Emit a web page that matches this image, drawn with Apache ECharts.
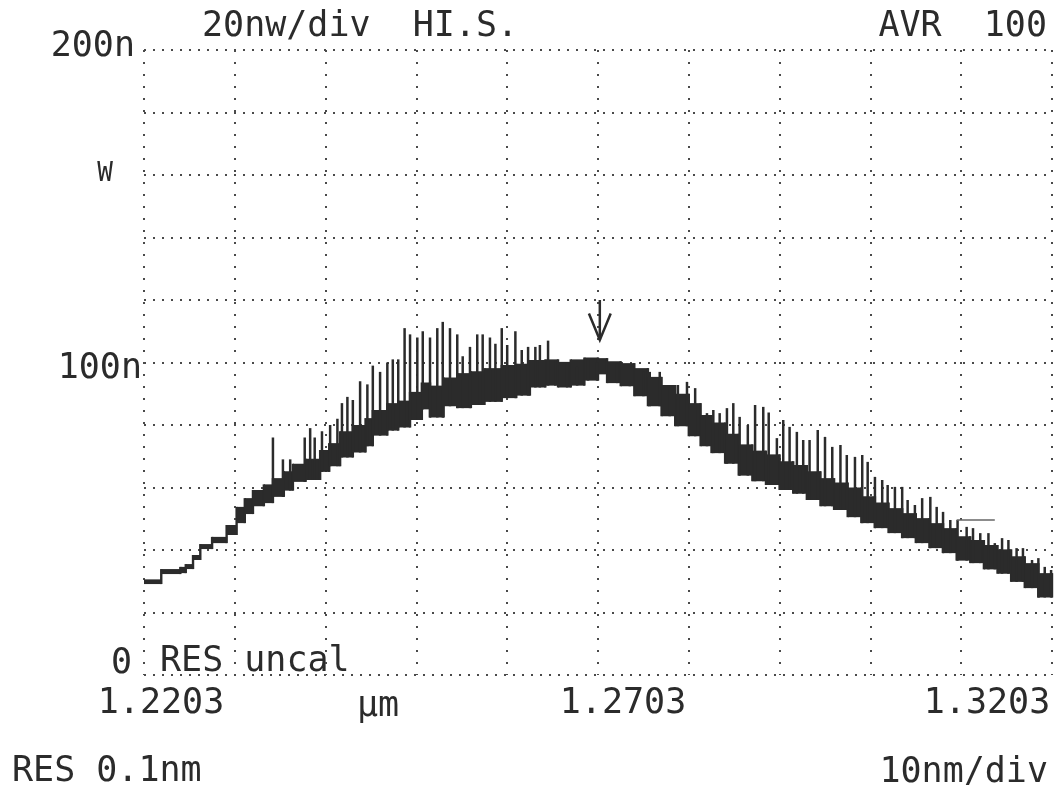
<!DOCTYPE html>
<html>
<head>
<meta charset="utf-8">
<script src="https://cdn.jsdelivr.net/npm/echarts@6/dist/echarts.min.js"></script>
<style>
  html, body { margin: 0; padding: 0; background: #fff; }
  #main { width: 1059px; height: 785px; }
</style>
</head>
<body>
<div id="main"></div>
<script>
// x positions are nm from the left edge of the sweep (1.2203 um), 10nm/div
var START_UM = 1.2203;
var SPAN_NM = 100;

var xTicks = [0, 50, 100];
var xTickLabels = ['1.2203', '1.2703', '1.3203'];
var yTicks = [200, 160, 100, 0];
var yTickLabels = ['200n', 'W', '100n', '0'];

// dark trace band: start of each step (nm), lower and upper edge (nW)
var bandNm = [0.0, 1.9, 4.0, 4.6, 5.4, 6.2, 7.5, 9.1, 10.2, 11.1, 12.0, 13.2, 14.2, 15.4, 16.4, 17.8, 19.4, 20.4, 21.6, 23.0,
  24.4, 25.2, 26.8, 28.0, 29.3, 30.6, 31.5, 33.0, 34.5, 36.0, 37.5, 39.4, 41.0, 42.5, 44.2, 45.6, 47.0, 48.5, 50.0, 51.0,
  52.5, 54.0, 55.5, 57.0, 58.5, 60.0, 61.3, 62.5, 64.0, 65.5, 67.0, 68.5, 70.0, 71.5, 73.0, 74.5, 76.0, 77.5, 79.0, 80.5,
  82.0, 83.5, 85.0, 86.5, 88.0, 89.5, 91.0, 92.5, 94.0, 95.5, 97.0, 98.5];
var bandLow = [29.1, 32.3, 32.6, 33.9, 36.8, 40.3, 42.2, 44.8, 48.6, 51.5, 54.0, 55.0, 57.0, 59.0, 61.8, 62.4, 65.0, 66.8, 69.6, 71.2,
  73.2, 76.6, 78.2, 79.2, 81.6, 85.0, 82.4, 86.0, 85.4, 86.4, 87.4, 88.6, 89.4, 92.0, 92.6, 92.0, 92.6, 94.2, 96.2, 93.4,
  92.4, 89.2, 86.0, 82.8, 79.6, 76.4, 73.2, 71.0, 67.6, 63.8, 62.0, 60.8, 59.2, 58.0, 56.0, 54.0, 52.8, 50.5, 48.6, 47.0,
  45.4, 43.8, 42.2, 40.6, 39.0, 36.6, 35.8, 33.8, 32.4, 29.8, 27.8, 24.8];
var bandHigh = [30.6, 33.9, 34.6, 35.5, 38.4, 41.9, 44.2, 48.0, 53.8, 56.6, 59.2, 61.0, 63.0, 65.2, 67.6, 69.2, 72.0, 74.2, 78.0, 80.0,
  82.2, 84.8, 87.0, 87.8, 90.6, 93.6, 92.6, 95.2, 96.6, 97.2, 98.2, 99.2, 99.6, 100.8, 101.0, 100.2, 101.0, 101.6, 101.4, 100.4,
  99.8, 98.2, 95.4, 92.8, 90.0, 87.0, 83.2, 80.8, 77.2, 73.8, 71.8, 70.6, 68.4, 67.2, 65.2, 63.0, 61.6, 60.0, 57.2, 55.2,
  53.4, 51.8, 50.2, 48.6, 47.0, 44.4, 43.2, 41.6, 40.2, 38.0, 35.8, 32.6];

// upward glitches on the trace: position (nm) and top (nW)
var spikeNm = [14.2, 15.3, 16.1, 17.7, 18.3, 18.8, 19.6, 20.5, 21.3, 21.8, 22.4, 23.0, 23.8, 24.6, 25.2, 26.0, 26.8, 27.4, 28.0, 28.7,
  29.3, 30.1, 30.7, 31.5, 32.3, 32.9, 33.7, 34.5, 35.1, 35.9, 36.7, 37.3, 38.1, 38.7, 39.4, 40.0, 40.9, 41.6, 42.3, 43.1,
  43.6, 44.5, 45.3, 46.6, 47.7, 48.9, 49.9, 52.1, 53.5, 55.0, 55.7, 56.8, 57.9, 58.8, 59.8, 60.7, 62.0, 62.7, 63.4, 64.2,
  64.9, 65.6, 66.5, 67.3, 68.2, 68.8, 69.7, 70.4, 71.1, 71.9, 72.6, 73.3, 74.2, 75.0, 75.8, 76.7, 77.4, 78.3, 79.1, 79.7,
  80.5, 81.3, 81.9, 82.7, 83.5, 84.1, 84.9, 85.7, 86.6, 87.3, 88.0, 88.8, 89.6, 90.6, 91.3, 92.1, 93.0, 93.7, 94.5, 95.2,
  96.1, 96.8, 97.8, 98.5, 99.2, 99.9];
var spikeTop = [76, 69, 69, 76, 79, 76, 78, 80, 82, 87, 89, 88, 94, 93, 99, 97, 100, 101, 101, 111,
  109, 108, 110, 108, 111, 113, 111, 109, 102, 105, 109, 109, 108, 106, 111, 105.6, 110, 104, 105, 105,
  105.6, 107, 100.8, 100, 98.6, 100.8, 100, 99.8, 99, 97, 97, 97, 92, 92.8, 93.8, 91.8, 83.8, 84.8, 83.8, 85.4,
  87, 82.6, 80, 86.4, 85.8, 84, 75.8, 81.6, 79.4, 77.8, 75.2, 75.2, 78.4, 76.2, 73, 73.6, 70.4, 69.8, 70.4, 68.2,
  63.4, 62.4, 60.8, 60.2, 60.2, 56, 54.4, 56.6, 57, 53.8, 52.2, 49.6, 49.6, 47.4, 47, 45.4, 45.4, 42.2, 43.8, 43.2,
  40.6, 40.6, 36.8, 37.4, 34.6, 33.6];

// marker arrow above the peak: position (nm), tail and tip (nW)
var markerNm = 50.2;
var markerTail = 120;
var markerTip = 107.2;

// short stray pen stroke on the right
var strayNm = [89.5, 93.7];
var strayVal = [49.6, 49.6];

var INK = '#2b2b2b';
var FONT = '"DejaVu Sans Mono", monospace';
var FS = 35;

function bandLowAt(x) {
  var v = bandLow[0];
  for (var i = 0; i < bandNm.length; i++) {
    if (bandNm[i] <= x) v = bandLow[i];
  }
  return v;
}

// each step also carries the next step's edges so the riser can be drawn
var bandData = bandNm.map(function (x, i) {
  var last = i + 1 >= bandNm.length;
  var x1 = last ? SPAN_NM : bandNm[i + 1];
  var nLow = last ? bandLow[i] : bandLow[i + 1];
  var nHigh = last ? bandHigh[i] : bandHigh[i + 1];
  return [x, bandLow[i], bandHigh[i], x1, nLow, nHigh];
});
var spikeData = spikeNm.map(function (x, i) {
  return [x, bandLowAt(x), spikeTop[i]];
});

function lbl(size, pad) {
  return { fontFamily: FONT, fontSize: size, color: INK, padding: pad };
}
var xRich = { t0: lbl(FS, [0, 0, 0, 34]), t1: lbl(FS, [0, 0, 0, 50]), t2: lbl(FS, [0, 130, 0, 0]) };
var yRich = { t0: lbl(FS, [0, 7, 6, 0]), t1: lbl(26, [0, 29, 2, 0]), t2: lbl(FS, [12, 0, 0, 0]), t3: lbl(FS, [0, 10, 22, 0]) };

var option = {
  animation: false,
  backgroundColor: '#fff',
  grid: { left: 144, right: 7, top: 50, bottom: 110 },
  xAxis: {
    type: 'value', min: 0, max: SPAN_NM, interval: 10,
    axisLine: { show: false }, axisTick: { show: false },
    splitLine: { show: true, lineStyle: { color: '#4a4a4a', width: 2, type: [2, 10] } },
    axisLabel: {
      margin: 11,
      formatter: function (v) {
        var k = xTicks.indexOf(v);
        return k < 0 ? '' : '{t' + k + '|' + xTickLabels[k] + '}';
      },
      rich: xRich
    }
  },
  yAxis: {
    type: 'value', min: 0, max: 200, interval: 20,
    axisLine: { show: false }, axisTick: { show: false },
    splitLine: { show: true, lineStyle: { color: '#4a4a4a', width: 2, type: [2, 7] } },
    axisLabel: {
      margin: 2,
      formatter: function (v) {
        var k = yTicks.indexOf(v);
        return k < 0 ? '' : '{t' + k + '|' + yTickLabels[k] + '}';
      },
      rich: yRich
    }
  },
  series: [
    {
      name: 'band',
      type: 'custom',
      data: bandData,
      encode: { x: [0, 3], y: [1, 2] },
      renderItem: function (params, api) {
        var p0 = api.coord([api.value(0), api.value(2)]);
        var p1 = api.coord([api.value(3), api.value(1)]);
        var r0 = api.coord([api.value(3), Math.max(api.value(2), api.value(5))]);
        var r1 = api.coord([api.value(3), Math.min(api.value(1), api.value(4))]);
        return {
          type: 'group',
          children: [
            {
              type: 'rect',
              shape: { x: p0[0], y: p0[1], width: p1[0] - p0[0] + 0.5, height: p1[1] - p0[1] },
              style: { fill: INK }
            },
            {
              type: 'rect',
              shape: { x: r0[0] - 1.2, y: r0[1], width: 2.4, height: r1[1] - r0[1] },
              style: { fill: INK }
            }
          ]
        };
      }
    },
    {
      name: 'spikes',
      type: 'custom',
      data: spikeData,
      encode: { x: 0, y: [1, 2] },
      renderItem: function (params, api) {
        var a = api.coord([api.value(0), api.value(1)]);
        var b = api.coord([api.value(0), api.value(2)]);
        return {
          type: 'line',
          shape: { x1: a[0], y1: a[1], x2: b[0], y2: b[1] },
          style: { stroke: INK, lineWidth: 2.5 }
        };
      }
    },
    {
      name: 'marker',
      type: 'custom',
      data: [[markerNm, markerTail, markerTip]],
      renderItem: function (params, api) {
        var x = api.value(0);
        var tail = api.coord([x, api.value(1)]);
        var tip = api.coord([x, api.value(2)]);
        var l = api.coord([x - 1.2, api.value(2) + 8.5]);
        var r = api.coord([x + 1.2, api.value(2) + 8.5]);
        return {
          type: 'group',
          children: [
            { type: 'line', shape: { x1: tail[0], y1: tail[1], x2: tip[0], y2: tip[1] }, style: { stroke: INK, lineWidth: 2.5 } },
            { type: 'polyline', shape: { points: [l, tip, r] }, style: { stroke: INK, lineWidth: 2.5, fill: null } }
          ]
        };
      }
    },
    {
      name: 'stray',
      type: 'line',
      data: strayNm.map(function (x, i) { return [x, strayVal[i]]; }),
      symbol: 'none',
      lineStyle: { color: '#666', width: 1.5 }
    }
  ],
  graphic: [
    { type: 'text', x: 202, y: 27, style: { text: '20nw/div  HI.S.', font: FS + 'px ' + FONT, fill: INK, verticalAlign: 'middle' } },
    { type: 'text', x: 1047, y: 27, style: { text: 'AVR  100', font: FS + 'px ' + FONT, fill: INK, align: 'right', verticalAlign: 'middle' } },
    { type: 'text', x: 160, y: 662, style: { text: 'RES uncal', font: FS + 'px ' + FONT, fill: INK, verticalAlign: 'middle' } },
    { type: 'text', x: 357, y: 707, style: { text: '\u00b5m', font: FS + 'px ' + FONT, fill: INK, verticalAlign: 'middle' } },
    { type: 'text', x: 12, y: 772, style: { text: 'RES 0.1nm', font: FS + 'px ' + FONT, fill: INK, verticalAlign: 'middle' } },
    { type: 'text', x: 1048, y: 773, style: { text: '10nm/div', font: FS + 'px ' + FONT, fill: INK, align: 'right', verticalAlign: 'middle' } }
  ]
};

var myChart = echarts.init(document.getElementById('main'));
myChart.setOption(option);
</script>
</body>
</html>
